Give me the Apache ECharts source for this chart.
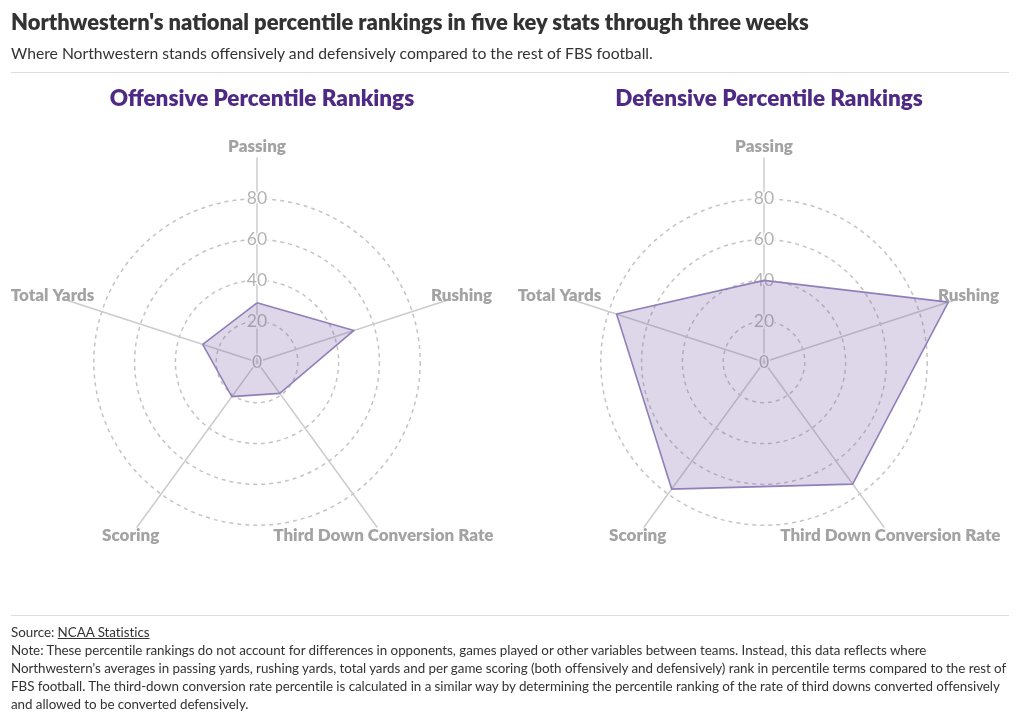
<!DOCTYPE html>
<html>
<head>
<meta charset="utf-8">
<script src="https://cdn.jsdelivr.net/npm/echarts@6/dist/echarts.min.js"></script>
<style>
  html, body { margin: 0; padding: 0; background: #fff; }
  body { width: 1020px; height: 723px; position: relative; overflow: hidden; font-family: Lato, "Noto Sans", sans-serif; color: #333; }
  #chart { position: absolute; left: 0; top: 0; width: 1020px; height: 723px; }
  .abs { position: absolute; left: 11px; white-space: nowrap; }
  #title { top: 8px; font-size: 21.9px; line-height: 28px; font-weight: 800; color: #333; }
  #subtitle { top: 43px; font-size: 15.7px; line-height: 20px; color: #333; }
  .rule { position: absolute; left: 11px; width: 998px; height: 1px; background: #dcdcdc; }
  #footer { top: 623px; font-size: 13.4px; line-height: 18px; color: #333; letter-spacing: -0.05px; }
  #footer a { color: #333; text-decoration: underline; }
</style>
</head>
<body>
<div id="chart"></div>
<div class="abs" id="title">Northwestern's national percentile rankings in five key stats through three weeks</div>
<div class="abs" id="subtitle">Where Northwestern stands offensively and defensively compared to the rest of FBS football.</div>
<div class="rule" style="top:72px"></div>
<div class="rule" style="top:615px"></div>
<div class="abs" id="footer">Source: <a>NCAA Statistics</a><br>Note: These percentile rankings do not account for differences in opponents, games played or other variables between teams. Instead, this data reflects where<br>Northwestern's averages in passing yards, rushing yards, total yards and per game scoring (both offensively and defensively) rank in percentile terms compared to the rest of<br>FBS football. The third-down conversion rate percentile is calculated in a similar way by determining the percentile ranking of the rate of third downs converted offensively<br>and allowed to be converted defensively.</div>
<script>
// Indicators listed in ECharts' counter-clockwise order starting from the top
const categories = ['Passing', 'Total Yards', 'Scoring', 'Third Down Conversion Rate', 'Rushing'];
const offensiveValues = [29, 28, 21, 19, 50];
const defensiveValues = [40, 76, 77, 74, 95];
const panelTitles = ['Offensive Percentile Rankings', 'Defensive Percentile Rankings'];
const axisMax = 100;

const chart = echarts.init(document.getElementById('chart'), null, { renderer: 'canvas' });

function makeRadar(cx) {
  return {
    center: [cx, 362],
    radius: 204,
    startAngle: 90,
    shape: 'circle',
    splitNumber: 5,
    nameGap: 11,
    indicator: categories.map((c, i) => {
      const ind = { name: c, min: 0, max: axisMax };
      if (i === 0) {
        ind.axisLabel = {
          show: true,
          showMaxLabel: false,
          margin: 0,
          align: 'center',
          verticalAlign: 'middle',
          color: '#b3b3b3',
          fontSize: 17.5,
          fontFamily: 'Lato',
          textBorderColor: 'rgba(255,255,255,0.85)',
          textBorderWidth: 3,
          formatter: v => (v >= axisMax ? '' : String(v))
        };
      }
      return ind;
    }),
    axisName: {
      color: '#a3a3a3',
      fontWeight: 800,
      fontSize: 17,
      fontFamily: 'Lato',
      align: 'center',
      verticalAlign: 'middle'
    },
    axisLine: { lineStyle: { color: '#cccccc', width: 1.5 } },
    axisTick: { show: false },
    axisLabel: { show: false },
    splitLine: {
      lineStyle: {
        color: ['#c4c4c4', '#c4c4c4', '#c4c4c4', '#c4c4c4', '#c4c4c4', 'rgba(0,0,0,0)'],
        type: [4, 4],
        width: 1.5
      }
    },
    splitArea: { show: false }
  };
}

const titleStyle = { color: '#4e2a84', fontSize: 22.5, fontWeight: 800, fontFamily: 'Lato' };

const option = {
  animation: false,
  title: [
    { text: panelTitles[0], left: 257, top: 82, textAlign: 'center', textStyle: titleStyle },
    { text: panelTitles[1], left: 764, top: 82, textAlign: 'center', textStyle: titleStyle }
  ],
  radar: [makeRadar(257), makeRadar(764)],
  series: [
    {
      type: 'radar', radarIndex: 0, symbol: 'none',
      lineStyle: { color: '#9585bb', width: 1.6 },
      areaStyle: { color: 'rgba(118,94,168,0.36)' },
      data: [{ value: offensiveValues, name: 'Offense' }]
    },
    {
      type: 'radar', radarIndex: 1, symbol: 'none',
      lineStyle: { color: '#9585bb', width: 1.6 },
      areaStyle: { color: 'rgba(118,94,168,0.36)' },
      data: [{ value: defensiveValues, name: 'Defense' }]
    }
  ]
};
chart.setOption(option);
</script>
</body>
</html>
